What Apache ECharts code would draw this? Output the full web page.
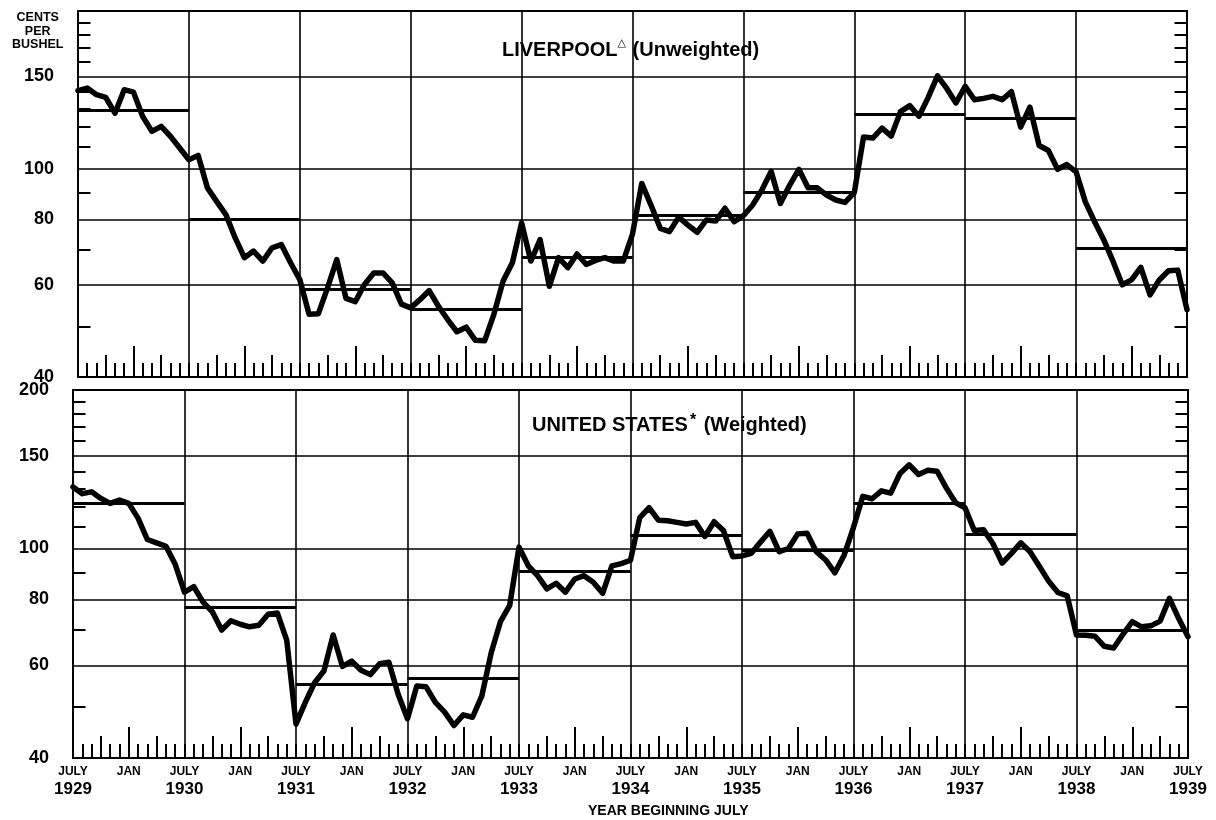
<!DOCTYPE html>
<html>
<head>
<meta charset="utf-8">
<script src="https://cdn.jsdelivr.net/npm/echarts@6/dist/echarts.min.js"></script>
<style>
html,body{margin:0;padding:0;background:#fff;}
#c{width:1216px;height:820px;}
</style>
</head>
<body>
<div id="c"></div>
<script>
// ---------- data ----------
const startYear = 1929;
const monthNames = ['JULY','AUG','SEPT','OCT','NOV','DEC','JAN','FEB','MAR','APR','MAY','JUNE'];
const yearLabels = ['1929','1930','1931','1932','1933','1934','1935','1936','1937','1938','1939'];

// Liverpool (unweighted), cents per bushel, monthly July 1929 - July 1939
const liverpool = [
  140.9,142.5,138.4,136.8,127.6,141.5,140.0,125.8,117.8,120.4,115.3,109.5,
  104.0,106.0,91.9,86.6,81.7,73.8,67.6,69.6,66.6,70.6,71.6,66.1,
  61.4,52.7,52.8,59.2,67.0,56.5,55.7,60.1,63.2,63.2,60.5,55.1,
  54.2,56.2,58.5,54.6,51.5,48.8,49.8,47.0,46.9,52.7,61.0,66.1,
  78.8,66.6,73.2,59.6,67.6,64.7,68.7,65.6,66.8,67.6,66.6,66.6,
  75.0,93.7,85.2,76.9,75.8,80.8,78.0,75.6,79.8,79.4,84.0,79.2,
  81.3,85.2,91.0,98.8,85.8,92.9,99.7,91.9,91.9,89.0,87.1,86.2,
  90.0,114.9,114.4,119.5,115.4,128.5,131.9,125.9,136.8,150.4,142.3,133.5,
  143.6,135.4,136.2,137.4,135.4,140.3,120.0,131.0,110.7,108.3,99.7,101.8,
  98.6,86.4,79.2,73.1,66.5,60.0,61.3,64.8,57.4,61.3,63.8,64.0,
  53.8
];
// United States (weighted)
const unitedStates = [
  130.9,127.1,128.1,124.5,121.8,123.6,121.8,114.2,104.0,102.5,101.0,93.3,
  82.6,84.6,79.1,75.8,70.0,72.9,71.8,71.0,71.5,75.0,75.4,67.0,
  46.4,51.0,55.6,58.5,68.5,59.7,61.1,58.7,57.6,60.4,60.8,52.8,
  47.5,54.8,54.6,51.0,48.9,46.1,48.3,47.8,52.5,63.3,72.6,78.0,
  100.6,92.7,88.8,83.8,85.9,82.6,87.5,88.8,86.3,82.2,92.7,93.6,
  95.0,114.5,119.5,113.2,112.9,112.1,111.3,112.1,105.4,112.4,108.2,96.5,
  96.8,97.9,102.9,107.8,98.6,100.0,106.6,106.9,98.6,95.1,89.9,97.2,
  109.7,125.6,124.3,128.7,127.4,138.8,144.2,138.2,140.8,140.2,130.2,122.1,
  119.5,108.2,108.5,102.2,93.8,97.9,102.5,98.6,92.5,86.7,82.5,81.3,
  68.5,68.4,68.1,65.2,64.7,68.7,72.6,71.0,71.3,72.8,80.4,73.6,
  68.0
];
// yearly averages (year beginning July)
const liverpoolAvg = [129.5,80.0,58.9,53.8,67.6,81.3,90.3,126.9,124.8,70.5];
const unitedStatesAvg = [122.1,77.4,55.2,56.7,90.7,105.9,99.3,121.7,106.3,70.0];

const gridValues = [60,80,100,150];
const topTickLabels = [40,60,80,100,150];
const bottomTickLabels = [40,60,80,100,150,200];
const minorTicks = [50,70,90,110,120,130,140,160,170,180,190];

// ---------- chart ----------
const FONT = 'Liberation Sans';
const categories = liverpool.map((_, i) => monthNames[i % 12] + ' ' + (startYear + Math.floor((i + 6) / 12)));
const lastIdx = categories.length - 1;

function catAxis(grid, len, test, extra) {
  return Object.assign({
    type: 'category', gridIndex: grid, data: categories, boundaryGap: false, position: 'bottom',
    axisLine: {show: false, onZero: false},
    axisTick: {show: true, inside: true, length: len, interval: (i) => test(i), lineStyle: {color: '#000', width: 2}},
    axisLabel: {show: false},
    splitLine: {show: false}
  }, extra || {});
}
const vSplit = {show: true, interval: (i) => i % 12 === 0, lineStyle: {color: '#000', width: 1.6}};
const bottomLabel = {
  show: true, margin: 6,
  interval: (i) => i % 12 === 0 || i % 12 === 6,
  formatter: (v, i) => i % 12 === 0 ? '{m|JULY}\n{y|' + yearLabels[i / 12] + '}' : (i % 12 === 6 ? '{m|JAN}' : ''),
  rich: {
    m: {fontFamily: FONT, fontWeight: 'bold', fontSize: 12, lineHeight: 15, color: '#000'},
    y: {fontFamily: FONT, fontWeight: 'bold', fontSize: 17, lineHeight: 20, color: '#000'}
  }
};

const xAxis = [];
[0, 1].forEach((g) => {
  xAxis.push(catAxis(g, 14, () => true, {splitLine: vSplit, axisLabel: g === 1 ? bottomLabel : {show: false}}));
  xAxis.push(catAxis(g, 22, (i) => i % 12 === 3 || i % 12 === 9));
  xAxis.push(catAxis(g, 31, (i) => i % 12 === 6));
  xAxis.push({type: 'value', gridIndex: g, min: 0, max: lastIdx, show: false, position: 'bottom'});
});
const yAxis = [0, 1].map((g) => ({type: 'log', logBase: 10, gridIndex: g, min: 40, max: 200, show: false}));

const labelStyle = {show: true, position: 'start', distance: 24, color: '#000', fontFamily: FONT, fontWeight: 'bold', fontSize: 18};
function gridMarks(labels) {
  const vals = Array.from(new Set(labels.concat(gridValues))).sort((a, b) => a - b);
  return vals.map((v) => ({
    yAxis: v,
    label: labels.indexOf(v) >= 0 ? Object.assign({}, labelStyle, {formatter: String(v)}) : {show: false},
    lineStyle: {color: '#000', width: 1.6, type: 'solid'}
  }));
}
function avgMarks(avgs) {
  return avgs.map((v, k) => [{coord: [12 * k, v]}, {coord: [12 * k + 12, v]}]);
}
function tickMarks(len) {
  const out = [];
  minorTicks.forEach((v) => {
    out.push([{coord: [0, v]}, {coord: [len, v]}]);
    out.push([{coord: [lastIdx - len, v]}, {coord: [lastIdx, v]}]);
  });
  return out;
}
const mlBase = {symbol: 'none', silent: true, animation: false, emphasis: {disabled: true}};

function panelSeries(g, name, values, avgs, labels) {
  const xi = g * 4;
  return [
    {
      name: name + ' grid', type: 'line', xAxisIndex: xi, yAxisIndex: g, data: [], silent: true,
      markLine: Object.assign({}, mlBase, {data: gridMarks(labels)})
    },
    {
      name: name + ' ticks', type: 'line', xAxisIndex: xi + 3, yAxisIndex: g, data: [], silent: true,
      markLine: Object.assign({}, mlBase, {label: {show: false}, lineStyle: {color: '#000', width: 2, type: 'solid'}, data: tickMarks(1.35)})
    },
    {
      name: name + ' average', type: 'line', xAxisIndex: xi, yAxisIndex: g, data: [], silent: true,
      markLine: Object.assign({}, mlBase, {label: {show: false}, lineStyle: {color: '#000', width: 3.2, type: 'solid'}, data: avgMarks(avgs)})
    },
    {
      name: name, type: 'line', xAxisIndex: xi, yAxisIndex: g, data: values,
      showSymbol: false, symbol: 'none', silent: true,
      lineStyle: {color: '#000', width: 5.5, join: 'round', cap: 'round'}
    }
  ];
}

const option = {
  backgroundColor: '#fff',
  animation: false,
  grid: [
    {left: 78, top: 11, width: 1109, height: 366, show: true, borderColor: '#000', borderWidth: 2, backgroundColor: 'transparent', containLabel: false},
    {left: 73, top: 390, width: 1115, height: 368, show: true, borderColor: '#000', borderWidth: 2, backgroundColor: 'transparent', containLabel: false}
  ],
  title: [
    {
      text: '{a|LIVERPOOL}{t|△}{a| (Unweighted)}', left: 497, top: 33,
      textStyle: {rich: {
        a: {fontFamily: FONT, fontWeight: 'bold', fontSize: 20, color: '#000', lineHeight: 24},
        t: {fontFamily: 'DejaVu Sans', fontWeight: 'bold', fontSize: 11, color: '#000', verticalAlign: 'top', lineHeight: 12, padding: [0, 1, 12, 0]}
      }}
    },
    {
      text: '{a|UNITED STATES}{t|*}{a| (Weighted)}', left: 527, top: 408,
      textStyle: {rich: {
        a: {fontFamily: FONT, fontWeight: 'bold', fontSize: 20, color: '#000', lineHeight: 24},
        t: {fontFamily: FONT, fontWeight: 'bold', fontSize: 16, color: '#000', verticalAlign: 'top', lineHeight: 14, padding: [0, 2, 10, 2]}
      }}
    }
  ],
  graphic: [
    {type: 'text', left: 12, top: 11, style: {text: 'CENTS\nPER\nBUSHEL', fill: '#000', font: 'bold 12.5px "Liberation Sans"', align: 'center', lineHeight: 13.5, textAlign: 'center'}},
    {type: 'text', left: 588, top: 804, style: {text: 'YEAR BEGINNING JULY', fill: '#000', font: 'bold 14px "Liberation Sans"'}}
  ],
  xAxis: xAxis,
  yAxis: yAxis,
  series: [].concat(
    panelSeries(0, 'Liverpool', liverpool, liverpoolAvg, topTickLabels),
    panelSeries(1, 'United States', unitedStates, unitedStatesAvg, bottomTickLabels)
  )
};
const chart = echarts.init(document.getElementById('c'));
chart.setOption(option);
</script>
</body>
</html>
